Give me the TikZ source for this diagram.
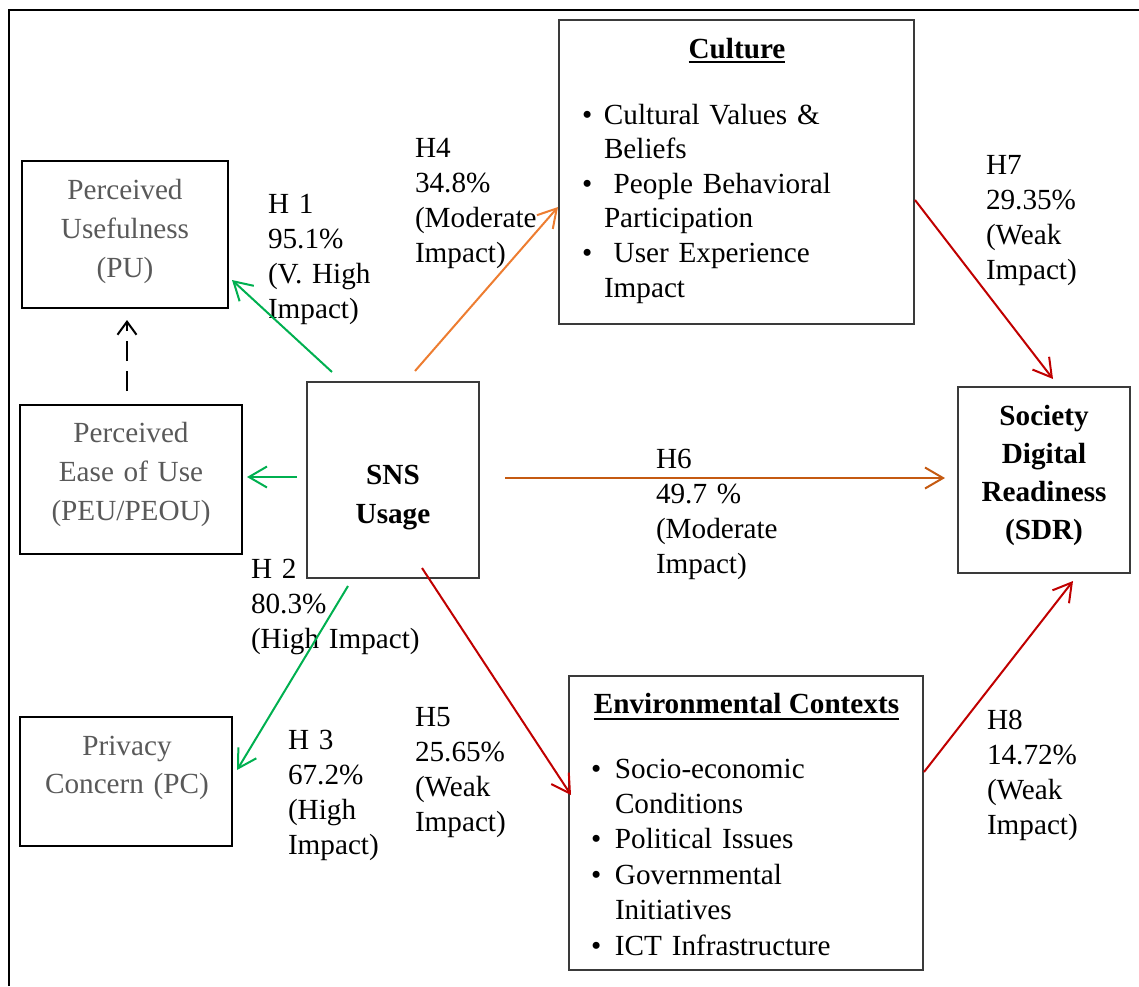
\documentclass[tikz,border=0pt]{standalone}
\usepackage{fontspec}
\setmainfont{Liberation Serif}
\usetikzlibrary{arrows.meta,calc}
\definecolor{capgray}{HTML}{595959}
\definecolor{hgreen}{HTML}{00B050}
\definecolor{horange}{HTML}{ED7D31}
\definecolor{hbrown}{HTML}{C55A11}
\definecolor{hred}{HTML}{C00000}
\definecolor{boxline}{HTML}{3A3A3A}
\begin{document}
\begin{tikzpicture}[x=0.5pt,y=-0.5pt,
  every node/.style={inner sep=0pt, outer sep=0pt},
  txt/.style={font=\fontsize{14.6pt}{17.5pt}\selectfont},
  heavybox/.style={draw=black, line width=1.3pt, rectangle},
  thinbox/.style={draw=boxline, line width=0.7pt, rectangle},
  hyp/.style={txt, anchor=base west, text width=90pt, align=left},
  ctext/.style={font=\fontsize{14.6pt}{#1}\selectfont, anchor=base, text width=110pt, align=center},
  ctext/.default={19.5pt},
  listtxt/.style={font=\fontsize{14.6pt}{#1}\selectfont, anchor=base west, text width=160pt, align=left},
  conn/.style={line width=1pt, -{Straight Barb[length=9pt,width=10.5pt]}},
]
\useasboundingbox (0,0) rectangle (1139,986);

% outer frame (top and left edges)
\draw[line width=1pt] (9,986) -- (9,10) -- (1139,10);

% boxes
\node[heavybox, minimum width=103pt, minimum height=73.5pt] (pu)  at (125,234.5) {};
\node[heavybox, minimum width=111pt, minimum height=74.5pt] (peu) at (131,479.5) {};
\node[heavybox, minimum width=106pt, minimum height=64.5pt] (pc)  at (126,781.5) {};
\node[thinbox, minimum width=86pt,  minimum height=98pt]   (sns) at (393,480) {};
\node[thinbox, minimum width=177.5pt, minimum height=152pt] (cul) at (736.5,172) {};
\node[thinbox, minimum width=86pt,  minimum height=93pt]   (sdr) at (1044,480) {};
\node[thinbox, minimum width=177pt, minimum height=147pt] (env) at (746,823) {};

% box texts
\node[ctext, text=capgray] (putext)  at (125,199) {Perceived\\Usefulness\\(PU)};
\node[ctext, text=capgray] (peutext) at (131,442) {Perceived\\Ease of Use\\(PEU/PEOU)};
\node[ctext=19pt, text=capgray] (pctext) at (127,755) {Privacy\\Concern (PC)};
\node[ctext, font=\fontsize{14.6pt}{19.5pt}\selectfont\bfseries] (snstext) at (393,484) {SNS\\Usage};
\node[ctext, font=\fontsize{14.6pt}{19.15pt}\selectfont\bfseries] (sdrtext) at (1044,425) {Society\\Digital\\Readiness\\(SDR)};

\node[txt, anchor=base] (culhead) at (737,58) {\textbf{Culture}};
\draw[line width=1pt] ($(culhead.base west)+(0,4)$) -- ($(culhead.base east)+(0,4)$);
\node[listtxt=17.3pt] (cullist) at (582,124) {%
\makebox[11pt][l]{\textbullet}Cultural Values \&\\
\hspace*{11pt}Beliefs\\
\makebox[11pt][l]{\textbullet} People Behavioral\\
\hspace*{11pt}Participation\\
\makebox[11pt][l]{\textbullet} User Experience\\
\hspace*{11pt}Impact};

\node[txt, anchor=base] (envhead) at (746.5,713) {\textbf{Environmental Contexts}};
\draw[line width=1pt] ($(envhead.base west)+(0,6)$) -- ($(envhead.base east)+(0,6)$);
\node[listtxt=17.7pt] (envlist) at (591,778) {%
\makebox[12pt][l]{\textbullet}Socio-economic\\
\hspace*{12pt}Conditions\\
\makebox[12pt][l]{\textbullet}Political Issues\\
\makebox[12pt][l]{\textbullet}Governmental\\
\hspace*{12pt}Initiatives\\
\makebox[12pt][l]{\textbullet}ICT Infrastructure};

% hypothesis labels
\node[hyp] (h1) at (268,213) {H 1\\95.1\%\\(V. High\\Impact)};
\node[hyp] (h2) at (251,578) {H 2\\80.3\%\\(High Impact)};
\node[hyp] (h3) at (288,749) {H 3\\67.2\%\\(High\\Impact)};
\node[hyp] (h4) at (415,157) {H4\\34.8\%\\(Moderate\\Impact)};
\node[hyp] (h5) at (415,726) {H5\\25.65\%\\(Weak\\Impact)};
\node[hyp] (h6) at (656,468) {H6\\49.7 \%\\(Moderate\\Impact)};
\node[hyp] (h7) at (986,174) {H7\\29.35\%\\(Weak\\Impact)};
\node[hyp] (h8) at (987,729) {H8\\14.72\%\\(Weak\\Impact)};

% connectors
\draw[line width=1pt, dash pattern=on 10pt off 5pt, -{Straight Barb[length=6.5pt,width=9.5pt]}]
  ($(peu.north)+(-4,-14)$) -- ($(pu.south)+(2,12)$);
\draw[conn, hgreen] ($(sns.north west)+(25,-10)$) -- ($(pu.south east)+(4,-28)$);
\draw[conn, hgreen] ($(sns.west)+(-10,-3)$) -- ($(peu.east)+(5,-2.5)$);
\draw[conn, hgreen] ($(sns.south west)+(41,8)$) -- ($(pc.east)+(5,-11.5)$);
\draw[conn, horange] ($(sns.north west)+(108,-11)$) -- ($(cul.west)+(-1,35)$);
\draw[conn, hbrown] ($(sns.east)+(26,-2)$) -- ($(sdr.west)+(-13,-2)$);
\draw[conn, hred] ($(sns.south west)+(115,-10)$) -- ($(env.west)+(2,-28)$);
\draw[conn, hred] ($(cul.east)+(1,28)$) -- ($(sdr.north)+(9,-8)$);
\draw[conn, hred] ($(env.east)+(1,-51)$) -- ($(sdr.south)+(29,8)$);
\end{tikzpicture}
\end{document}
